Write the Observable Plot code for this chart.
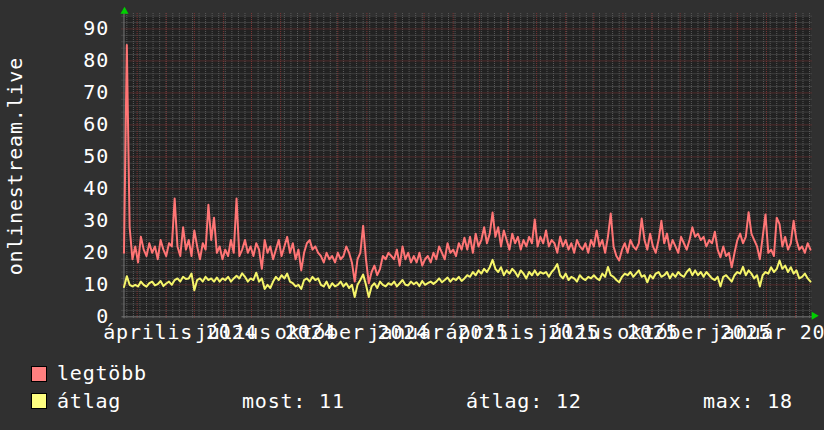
<!DOCTYPE html>
<html><head><meta charset="utf-8">
<script src="https://cdn.jsdelivr.net/npm/d3@7"></script>
<script src="https://cdn.jsdelivr.net/npm/@observablehq/plot@0.6"></script>
<style>
html,body{margin:0;padding:0;background:#303030;overflow:hidden;width:824px;height:430px}
#chart svg{display:block;background:#303030;overflow:hidden}
#legend{position:relative;height:80px;width:824px;font-family:"DejaVu Sans Mono",monospace;font-size:20px;letter-spacing:0.8px;color:#fff}
.box{position:absolute;width:16px;height:16px;border:1px solid #000;box-sizing:border-box}
.t{position:absolute;white-space:pre;line-height:20px}
</style></head><body>
<div id="chart"></div>
<div id="legend"></div>
<script>
// ---- data ----
const startDate = "2024-02-16";
const endDate = "2026-02-17";
const huMonths = ["január","február","március","április","május","június","július","augusztus","szeptember","október","november","december"];
const yTicks = [0,10,20,30,40,50,60,70,80,90];
const yAxisTitle = "onlinestream.live";
const seriesNames = ["legtöbb", "átlag"];
const legendStats = [["most", 11], ["átlag", 12], ["max", 18]];

// legtöbb (max) series
const legtobb = [
  20,85,28,18,22,17,25,21,19,23, 20,22,18,24,21,19,23,22,37,22,
  19,28,21,24,19,27,22,18,23,21, 35,24,31,20,22,18,21,19,24,20,
  37,19,21,24,20,22,19,23,21,15, 24,20,22,18,21,24,19,22,25,20,
  23,18,21,14.5,20,23,24,21,22,20, 19,17,20,18,19,17,20,18,19,22,
  20,17,11,18,20,28.5,18,10.5,14,16, 13,15,19,18,20,19,18,21,16,22,
  18,20,17,19,17,20,16,18,19,17, 20,18,22,20,18,23,20,21,19,23,
  21,24.7,21,25,20,26,22,24,28,23, 26,32.6,25,28,22,27,24,21,26,23,
  25,21,24,22,25,23,30.4,22,25,23, 27,22,24,23,20,25,22,24,21,23,
  20,24,22,21,23,20,24,22,27,22, 24,20,25,32.3,22,19,17.6,21,23,20,
  24,22,21,23,30.7,24,21,26,22,20, 24,30,23,26,21,24,22,20,25,23,
  21,24,28,25,26,24,25,22,24,23, 26.6,21,18.6,22,19,20,15.5,20,24,26,
  23,25,32.7,26,24,22,18,25,32,20, 21,19,31,29,22,25,21,23,30,24,
  21,22,20,23,21
];
// átlag (average) series
const atlag = [
  9.3,12.7,10,9.5,10,9.5,11,10,9.4,10.5, 11,9.8,10.2,11.2,9.6,10.4,11,10,11.5,12,
  11,12.5,11.8,12,13.5,8.3,11.5,12,11,12.5, 11.5,12,11,12.3,11,12,11.5,12.5,11,12,
  12.8,12,13.6,12.5,11,12,11.5,13.8,11,12, 8.7,10,9,11,12.5,11.5,13,12,13.5,11,
  10.5,9.5,10,8.7,11.5,12,11,12.5,11.5,12, 10,9.5,11,9,10.5,9.5,10,11,9.5,10.5,
  9,10,6.2,10,11.5,13.2,10,6.2,9.5,10.5, 9,11,10,9.5,10.5,10,11,9.5,10.5,11.5,
  10,9.8,11,10.2,10.8,9.6,11.2,10,10.5,11, 10.3,11,12,10.8,11.5,12.3,11,12,11.5,12.5,
  11.2,12,13,12.5,14,13,14.5,13.5,15,14, 15.5,17.8,15,14,15.5,13,14.5,13.5,15,14,
  12.5,14.5,13.5,12,14,13,14.5,13,14,13.5, 14,12.5,14,15,16.5,13,12,13.5,11.5,12.5,
  12,11,13,12,11.5,12.5,12,13,12,11.5, 13.5,12.5,15.6,13,12.5,11.5,10.8,12.5,13.5,13,
  14,12.5,13.5,14.5,12.5,13,10.8,13,12,13.5, 14,12.5,13,14,12,13.5,12.5,14,13,12.5,
  14,15,13,14.5,13,14,12.5,14,13,12, 11.5,12.5,9.5,12.5,13,12,11,13,14,13.5,
  15.6,13,14.5,13.5,12,13,9.5,13,14,13.5, 15.5,14,15,17.6,15,16,14,15.5,13.5,14.5,
  12,12.5,13.5,12,11
];

// ---- build ----
const FONT = "DejaVu Sans Mono";
const t0 = new Date(startDate + "T00:00Z"), t1 = new Date(endDate + "T00:00Z");
function toRows(values, name) {
  const n = values.length;
  return values.map((v, i) => ({date: new Date(+t0 + (t1 - t0) * i / (n - 1)), value: v, series: name}));
}
const redRows = toRows(legtobb, seriesNames[0]);
const yelRows = toRows(atlag, seriesNames[1]);
const yMax = 94.2;
const minorY = d3.range(0, yMax, 2).filter(v => v % 10 !== 0);
const majorY = yTicks.filter(v => v > 0);
const weeks = d3.utcMonday.range(t0, t1);
const months = d3.utcMonth.range(t0, t1);
const quarterLabels = d3.utcMonth.every(3).range(d3.utcMonth.floor(t0), t1).map(d => ({
  date: d3.utcDay.offset(d, 15),
  text: huMonths[d.getUTCMonth()] + " " + d.getUTCFullYear()
}));

const gridGrey = "#5a5a5a", gridRed = "#7e3434";
const chart = Plot.plot({
  width: 824, height: 350,
  marginLeft: 123.5, marginRight: 14, marginTop: 15, marginBottom: 33.7,
  style: {background: "#303030", color: "#fff", fontFamily: FONT, fontSize: "20px", letterSpacing: "0.8px"},
  x: {type: "utc", domain: [t0, t1], axis: null},
  y: {domain: [0, yMax], axis: null},
  marks: [
    Plot.frame({fill: "#222222", stroke: null}),
    Plot.ruleY(minorY, {stroke: gridGrey, strokeDasharray: "1,1", insetLeft: -2, insetRight: -2}),
    Plot.ruleX(weeks, {stroke: gridGrey, strokeDasharray: "1,1", insetTop: -2, insetBottom: -2}),
    Plot.ruleY(majorY, {stroke: gridRed, strokeDasharray: "1,1", insetLeft: -2, insetRight: -2}),
    Plot.ruleX(months, {stroke: gridRed, strokeDasharray: "1,1", insetTop: -2, insetBottom: -2}),
    Plot.ruleY([0], {stroke: "#777", insetLeft: -2, insetRight: -4}),
    Plot.ruleX([t0], {stroke: "#777", insetTop: -4, insetBottom: -2}),
    Plot.line(yelRows, {x: "date", y: "value", stroke: "#f5f56a", strokeWidth: 2}),
    Plot.line(redRows, {x: "date", y: "value", stroke: "#ff7575", strokeWidth: 2}),
    Plot.axisY({ticks: yTicks, tickSize: 0, tickPadding: 15, tickFormat: d => String(d), label: null, fill: "#fff", fontSize: 20, fontFamily: FONT}),
    Plot.text(quarterLabels, {x: "date", text: "text", frameAnchor: "bottom", lineAnchor: "bottom", dy: 22, fill: "#fff", fontSize: 20, fontFamily: FONT}),
    Plot.text([yAxisTitle], {frameAnchor: "left", dx: -102.5, rotate: -90, textAnchor: "middle", lineAnchor: "bottom", fill: "#fff", fontSize: 20, fontFamily: FONT}),
    Plot.dot([0], {frameAnchor: "top-left", symbol: "triangle", r: 3, fill: "#00d000", stroke: null, dx: 0.5, dy: -4}),
    Plot.dot([0], {frameAnchor: "bottom-right", symbol: "triangle", r: 3, fill: "#00d000", stroke: null, rotate: 90, dx: 3.5, dy: -1})
  ]
});
document.getElementById("chart").appendChild(chart);

// ---- legend ----
const lg = document.getElementById("legend");
function add(cls, css, text) {
  const e = document.createElement("div");
  e.className = cls; Object.assign(e.style, css);
  if (text != null) e.textContent = text;
  lg.appendChild(e);
}
add("box", {left: "31px", top: "16px", background: "#ff8080"});
add("t", {left: "57px", top: "13px"}, seriesNames[0]);
add("box", {left: "31px", top: "43px", background: "#ffff80"});
add("t", {left: "57px", top: "41px"}, seriesNames[1]);
const statX = [242, 466, 703];
legendStats.forEach(([k, v], i) => add("t", {left: statX[i] + "px", top: "41px"}, k + ": " + v));
</script></body></html>
